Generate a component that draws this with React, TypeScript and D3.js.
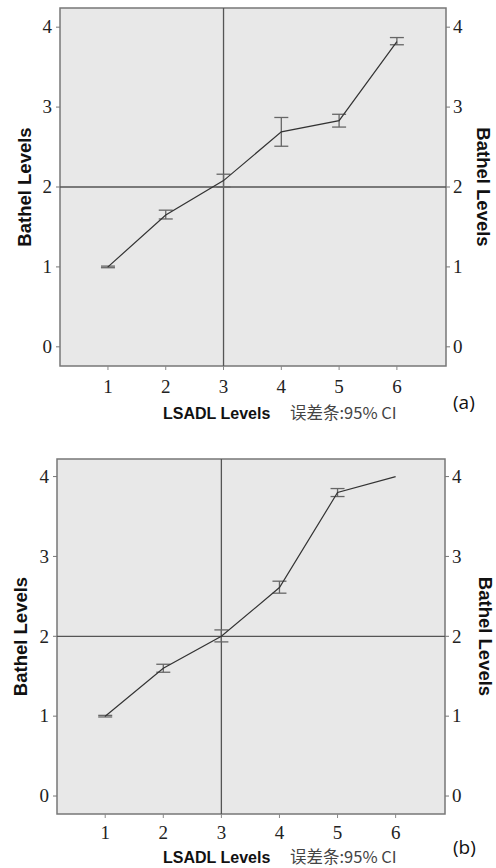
import React from 'react'
import * as d3 from 'd3'

const levels = [1, 2, 3, 4, 5, 6]
const yTicks = [0, 1, 2, 3, 4]

// panel (a)
const meanA = [1.0, 1.65, 2.08, 2.69, 2.83, 3.82]
const lowA = [0.99, 1.6, 2.0, 2.51, 2.75, 3.78]
const highA = [1.01, 1.71, 2.16, 2.87, 2.91, 3.87]

// panel (b)
const meanB = [1.0, 1.6, 2.0, 2.61, 3.8, 4.0]
const lowB = [0.99, 1.55, 1.93, 2.54, 3.75, 4.0]
const highB = [1.01, 1.65, 2.08, 2.69, 3.85, 4.0]

const xTitle = 'LSADL Levels'
const yTitle = 'Bathel Levels'
const note = '误差条:95% CI'

const serif = '"Liberation Serif", "Times New Roman", serif'
const sans = '"Liberation Sans", Arial, sans-serif'

type PanelProps = {
  mean: number[]
  low: number[]
  high: number[]
  left: number
  right: number
  top: number
  bottom: number
  yDomain: [number, number]
  tag: string
  tagY: number
  titleY: number
  tickGap: number
  leftTitleX: number
  rightTitleX: number
}

function Panel(p: PanelProps) {
  const x = d3.scaleLinear().domain([0.17, 6.85]).range([p.left, p.right])
  const y = d3.scaleLinear().domain(p.yDomain).range([p.bottom, p.top])
  const line = d3
    .line<number>()
    .x((_, i) => x(levels[i]))
    .y(d => y(d))
  const midY = (p.top + p.bottom) / 2
  const cap = 7

  return (
    <g>
      <rect
        x={p.left}
        y={p.top}
        width={p.right - p.left}
        height={p.bottom - p.top}
        fill="#e8e8e8"
        stroke="#777"
        strokeWidth={1.5}
      />
      {/* reference lines */}
      <line x1={x(3)} x2={x(3)} y1={p.top} y2={p.bottom} stroke="#555" strokeWidth={1.3} />
      <line x1={p.left} x2={p.right} y1={y(2)} y2={y(2)} stroke="#555" strokeWidth={1.3} />

      {/* error bars */}
      {levels.map((lv, i) =>
        p.high[i] > p.low[i] ? (
          <g key={lv} stroke="#666" strokeWidth={1.3}>
            <line x1={x(lv)} x2={x(lv)} y1={y(p.low[i])} y2={y(p.high[i])} />
            <line x1={x(lv) - cap} x2={x(lv) + cap} y1={y(p.low[i])} y2={y(p.low[i])} />
            <line x1={x(lv) - cap} x2={x(lv) + cap} y1={y(p.high[i])} y2={y(p.high[i])} />
          </g>
        ) : null
      )}
      <path d={line(p.mean) || ''} fill="none" stroke="#333" strokeWidth={1.2} />

      {/* y axes */}
      {yTicks.map(t => (
        <g key={t}>
          <line x1={p.left - 4} x2={p.left} y1={y(t)} y2={y(t)} stroke="#777" />
          <line x1={p.right} x2={p.right + 4} y1={y(t)} y2={y(t)} stroke="#777" />
          <text
            x={p.left - 8}
            y={y(t)}
            dy="0.33em"
            textAnchor="end"
            fontFamily={serif}
            fontSize={19}
            fill="#222"
          >
            {t}
          </text>
          <text
            x={p.right + 7}
            y={y(t)}
            dy="0.33em"
            textAnchor="start"
            fontFamily={serif}
            fontSize={19}
            fill="#222"
          >
            {t}
          </text>
        </g>
      ))}

      {/* x axis */}
      {levels.map(lv => (
        <g key={lv}>
          <line x1={x(lv)} x2={x(lv)} y1={p.bottom} y2={p.bottom + 4} stroke="#888" />
          <text
            x={x(lv)}
            y={p.bottom + p.tickGap}
            textAnchor="middle"
            fontFamily={serif}
            fontSize={19}
            fill="#222"
          >
            {lv}
          </text>
        </g>
      ))}

      <text
        transform={`translate(${p.leftTitleX},${midY}) rotate(-90)`}
        textAnchor="middle"
        dy="0.35em"
        fontFamily={sans}
        fontWeight="bold"
        fontSize={18.5}
        fill="#111"
      >
        {yTitle}
      </text>
      <text
        transform={`translate(${p.rightTitleX},${midY}) rotate(90)`}
        textAnchor="middle"
        dy="0.35em"
        fontFamily={sans}
        fontWeight="bold"
        fontSize={18.5}
        fill="#111"
      >
        {yTitle}
      </text>

      <text x={163} y={p.titleY} fontFamily={sans} fontWeight="bold" fontSize={16} fill="#111">
        {xTitle}
      </text>
      <text
        x={290}
        y={p.titleY}
        fontFamily='"Noto Sans CJK SC", "Noto Sans", sans-serif'
        fontSize={16.5}
        fill="#444"
      >
        {note}
      </text>
      <text x={453} y={p.tagY} fontFamily='"Open Sans", sans-serif' fontSize={19} fill="#111">
        {p.tag}
      </text>
    </g>
  )
}

export default function App() {
  return (
    <svg
      width={496}
      height={868}
      style={{ position: 'absolute', left: 0, top: 0, background: '#fff' }}
    >
      <Panel
        mean={meanA}
        low={lowA}
        high={highA}
        left={60}
        right={446}
        top={8}
        bottom={366}
        yDomain={[-0.24, 4.24]}
        tag="(a)"
        tagY={409}
        titleY={419}
        tickGap={27}
        leftTitleX={25}
        rightTitleX={483}
      />
      <Panel
        mean={meanB}
        low={lowB}
        high={highB}
        left={57}
        right={445}
        top={459}
        bottom={814}
        yDomain={[-0.225, 4.22]}
        tag="(b)"
        tagY={854}
        titleY={863}
        tickGap={25}
        leftTitleX={21}
        rightTitleX={485}
      />
    </svg>
  )
}
